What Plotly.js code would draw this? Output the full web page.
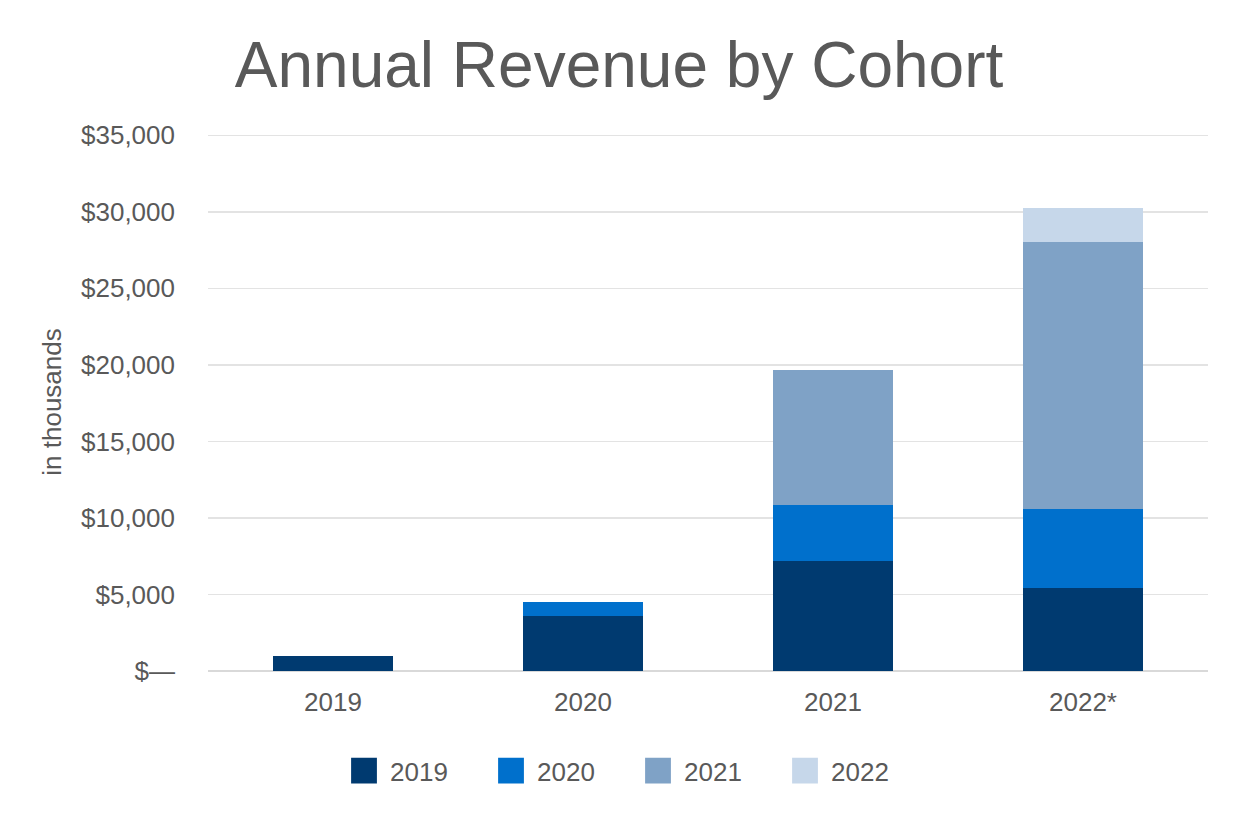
<!DOCTYPE html>
<html>
<head>
<meta charset="utf-8">
<script src="https://cdn.plot.ly/plotly-3.0.1.min.js"></script>
<style>html,body{margin:0;padding:0;background:#fff;}#chart{width:1238px;height:826px;}</style>
</head>
<body>
<div id="chart"></div>
<script>
const categories = ["2019", "2020", "2021", "2022*"];
const cohort2019 = [950, 3600, 7200, 5450];
const cohort2020 = [null, 930, 3650, 5150];
const cohort2021 = [null, null, 8800, 17420];
const cohort2022 = [null, null, null, 2250];
const seriesNames = ["2019", "2020", "2021", "2022"];
const seriesColors = ["#003A70", "#0070CC", "#7FA2C6", "#C6D7EA"];
const yTickVals = [0, 5000, 10000, 15000, 20000, 25000, 30000, 35000];
const yTickText = ["$—", "$5,000", "$10,000", "$15,000", "$20,000", "$25,000", "$30,000", "$35,000"];

const seriesValues = [cohort2019, cohort2020, cohort2021, cohort2022];
const traces = seriesValues.map((vals, i) => ({
  type: "bar",
  name: seriesNames[i],
  x: categories,
  y: vals,
  marker: {color: seriesColors[i], line: {width: 0}},
  hoverinfo: "x+y+name"
}));

const layout = {
  width: 1238, height: 826,
  paper_bgcolor: "#fff", plot_bgcolor: "#fff",
  font: {family: "Liberation Sans, Arial, sans-serif", color: "#595959", size: 26},
  barmode: "stack",
  bargap: 0.52,
  margin: {l: 208, r: 30, t: 133, b: 155},
  title: {text: "Annual Revenue by Cohort", font: {size: 64, color: "#595959"}, x: 0.5, xref: "container", xanchor: "center", y: 0.922, yref: "container", yanchor: "middle"},
  xaxis: {type: "category", showgrid: false, showline: false, ticks: "", ticklabelstandoff: 13, tickfont: {size: 26, color: "#595959"}},
  yaxis: {
    range: [0, 35150], tickvals: yTickVals, ticktext: yTickText,
    showgrid: true, gridcolor: "#e3e3e3", gridwidth: 1.5,
    zeroline: true, zerolinecolor: "#d9d9d9", zerolinewidth: 1.5,
    ticks: "", ticklabelstandoff: 32, tickfont: {size: 26, color: "#595959"},
    title: {text: "in thousands", font: {size: 26, color: "#595959"}, standoff: 11}
  },
  legend: {orientation: "h", x: 0.5202, xref: "container", xanchor: "center", y: 0.067, yref: "container", yanchor: "middle", font: {size: 26, color: "#595959"}, entrywidth: 102, entrywidthmode: "pixels", traceorder: "normal"},
  showlegend: true
};

Plotly.newPlot("chart", traces, layout, {displayModeBar: false, staticPlot: true}).then(gd => {
  gd.querySelectorAll(".legend .legendpoints path").forEach(p => {
    p.setAttribute("transform", "translate(14,0) scale(2.15)");
  });
});
</script>
</body>
</html>
